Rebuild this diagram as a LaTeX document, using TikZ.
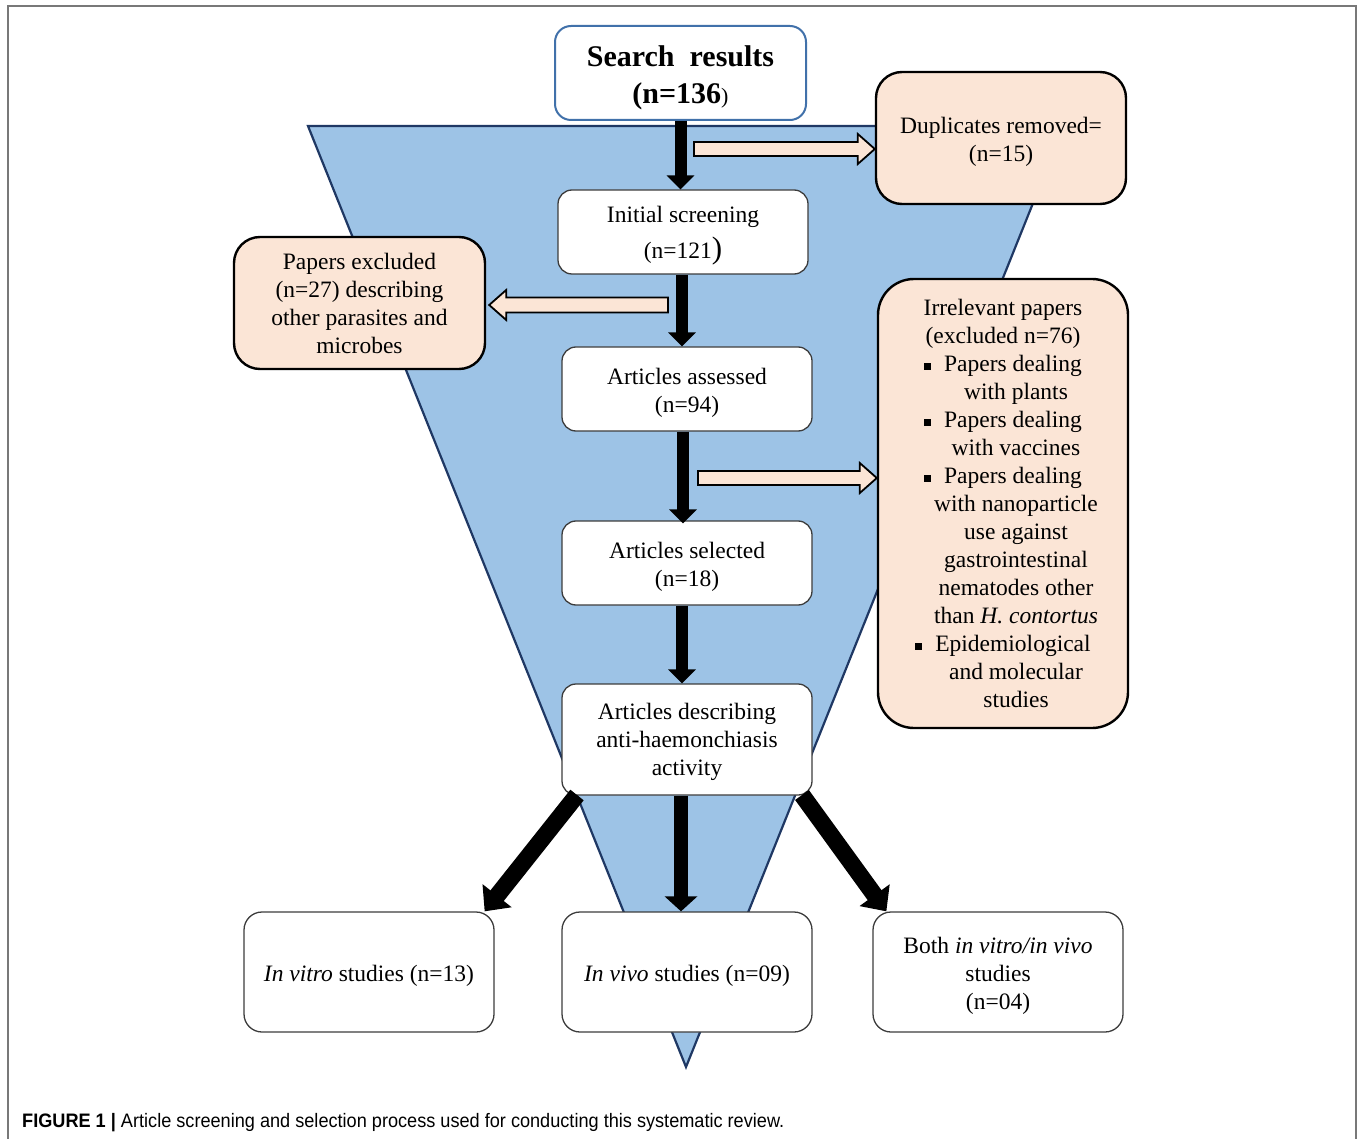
\documentclass[tikz,border=0pt]{standalone}
\usepackage{fontspec}
\setmainfont{Liberation Serif}
\newfontfamily\capfont[FakeStretch=0.93]{Liberation Sans}
\usetikzlibrary{arrows.meta,calc}
\definecolor{tri}{RGB}{157,195,230}
\definecolor{trib}{RGB}{31,56,100}
\definecolor{peach}{RGB}{251,229,214}
\definecolor{sblue}{RGB}{65,113,170}
\definecolor{framec}{RGB}{120,120,120}
\definecolor{wbord}{RGB}{60,60,60}
\newcommand\bul{\rule[2pt]{7pt}{7pt}\hspace{13pt}}
\newcommand\ind{\hspace*{26pt}}
\newcommand\st{\rule{0pt}{24pt}}
\begin{document}
\begin{tikzpicture}[x=1pt,y=-1pt,
 every node/.style={inner sep=0pt, align=center},
 body/.style={font=\fontsize{23.5}{28}\selectfont},
 wbox/.style={body, draw=wbord, line width=1.3pt, fill=white, rounded corners=14pt, minimum width=250pt, minimum height=84pt},
 pbox/.style={body, draw=black, line width=2.4pt, fill=peach, rounded corners=26pt, minimum width=250pt},
 barrow/.style={line width=12pt, -{Triangle[width=27pt,length=14pt]}},
 darrow/.style={line width=17pt, -{Triangle[width=36pt,length=20pt]}},
 hollow/.style={draw=black, line width=1.8pt, fill=peach, line join=miter}]
\useasboundingbox (0,0) rectangle (1360,1139);
% frame
\draw[framec, line width=2pt] (7.5,1139) -- (7.5,6.5) -- (1355.5,6.5) -- (1355.5,1139);
% funnel
\draw[trib, line width=2.2pt, fill=tri, line join=miter] (308,126) -- (1064,126) -- (686,1067) -- cycle;
\coordinate (dl) at (577,795);
\coordinate (dr) at (802,795);
% boxes
\node[wbox, draw=sblue, line width=2pt, minimum width=251pt, minimum height=94pt, rounded corners=16pt, font=\fontsize{30}{37}\selectfont\bfseries] (search) at (680.5,73) {\rule{0pt}{31pt}Search\ \ results\\(n=136{\mdseries\fontsize{22}{22}\selectfont)}};
\node[pbox, minimum height=132pt] (dup) at (1001,138) {\st Duplicates removed=\\(n=15)};
\node[wbox] (init) at (683,232) {\st Initial screening\\[8pt](n=121{\fontsize{31}{31}\selectfont)}};
\node[pbox, minimum width=251pt, minimum height=132pt] (excl) at (359.5,303) {Papers excluded\\(n=27) describing\\other parasites and\\microbes};
\node[wbox] (assess) at (687,389) {\st Articles assessed\\(n=94)};
\node[pbox, minimum height=449pt, rounded corners=36pt] (irr) at (1003,503.5) {Irrelevant papers\\(excluded n=76)\\\bul Papers dealing\\\ind with plants\\\bul Papers dealing\\\ind with vaccines\\\bul Papers dealing\\\ind with nanoparticle\\\ind use against\\\ind gastrointestinal\\\ind nematodes other\\\ind than \textit{H. contortus}\\\bul Epidemiological\\\ind and molecular\\\ind studies};
\node[wbox] (sel) at (687,563) {\st Articles selected\\(n=18)};
\node[wbox, minimum height=111pt] (desc) at (687,739.5) {\rule{0pt}{22pt}Articles describing\\anti-haemonchiasis\\activity};
\node[wbox, minimum height=120pt, rounded corners=18pt] (vitro) at (369,972) {\st\textit{In vitro} studies (n=13)};
\node[wbox, minimum height=120pt, rounded corners=18pt] (vivo) at (687,972) {\st\textit{In vivo} studies (n=09)};
\node[wbox, minimum height=120pt, rounded corners=18pt] (both) at (998,972) {\st Both \textit{in vitro/in vivo}\\studies\\(n=04)};
% diagonal arrows
\draw[darrow] (dl) -- ([xshift=-10pt]vitro.north east);
\draw[darrow] (dr) -- ([xshift=14pt]both.north west);
% vertical black arrows
\draw[barrow] (search.south) -- (search.south |- init.north);
\draw[barrow] ([xshift=-1pt]init.south) -- ([xshift=-1pt]init.south |- assess.north);
\draw[barrow] ([xshift=-4pt]assess.south) -- ([xshift=-4pt,yshift=-3pt]assess.south |- sel.north);
\draw[barrow] ([xshift=-5pt]sel.south) -- ([xshift=-5pt]sel.south |- desc.north);
\draw[barrow, line width=14pt, -{Triangle[width=32pt,length=15pt]}] ([xshift=-6pt]desc.south) -- ([xshift=-6pt]desc.south |- vivo.north);
% hollow arrows
\coordinate (h1s) at (694,149);
\coordinate (h1e) at (dup.west |- h1s);
\draw[hollow] ($(h1s)+(0,-7)$) -- ($(h1e)+(-17,-7)$) -- ($(h1e)+(-17,-15)$) -- (h1e) -- ($(h1e)+(-17,15)$) -- ($(h1e)+(-17,7)$) -- ($(h1s)+(0,7)$) -- cycle;
\coordinate (h2s) at (668,305);
\coordinate (h2e) at ([xshift=3pt]excl.east |- h2s);
\draw[hollow] ($(h2s)+(0,-7.5)$) -- ($(h2e)+(17,-7.5)$) -- ($(h2e)+(17,-15)$) -- (h2e) -- ($(h2e)+(17,15)$) -- ($(h2e)+(17,7.5)$) -- ($(h2s)+(0,7.5)$) -- cycle;
\coordinate (h3s) at (698,478);
\coordinate (h3e) at (irr.west |- h3s);
\draw[hollow] ($(h3s)+(0,-7)$) -- ($(h3e)+(-17,-7)$) -- ($(h3e)+(-17,-15)$) -- (h3e) -- ($(h3e)+(-17,15)$) -- ($(h3e)+(-17,7)$) -- ($(h3s)+(0,7)$) -- cycle;
% caption
\node[anchor=base west, font=\capfont\fontsize{19.5}{22}\selectfont] (cap) at (22,1127) {\textbf{FIGURE 1 |} Article screening and selection process used for conducting this systematic review.};
\end{tikzpicture}
\end{document}
